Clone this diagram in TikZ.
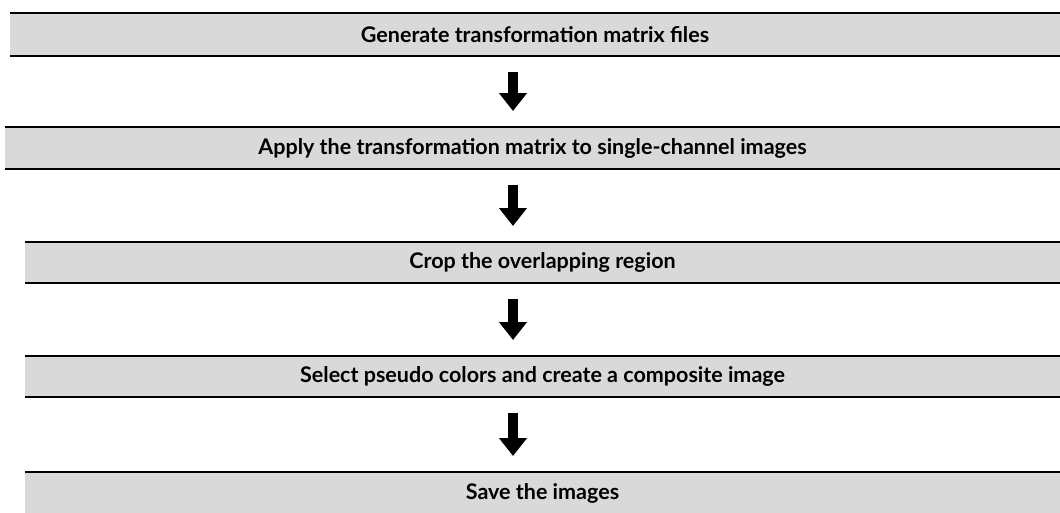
\documentclass[tikz,border=0pt]{standalone}
\usepackage{fontspec}
\newfontfamily\stagefont{Lato}
\usetikzlibrary{arrows.meta}

\begin{document}
\begin{tikzpicture}[x=1pt,y=-1pt,
	stage/.style={fill=black!15,inner sep=0pt,outer sep=0pt,font=\stagefont\bfseries\fontsize{21.5}{25}\selectfont},
	rule/.style={line width=2pt},
	flow/.style={line width=10pt,-{Triangle[width=27pt,length=18pt]},shorten <=16pt,shorten >=16pt}]
	\useasboundingbox (0,0) rectangle (1060,512);
	\node[stage,minimum width=1050pt,minimum height=43pt] (1) at (535,34.5) {Generate transformation matrix files};
	\node[stage,minimum width=1055pt,minimum height=42pt] (2) at (532.5,148) {Apply the transformation matrix to single-channel images};
	\node[stage,minimum width=1035pt,minimum height=41pt] (3) at (542.5,262.5) {Crop the overlapping region};
	\node[stage,minimum width=1035pt,minimum height=41pt] (4) at (542.5,376.5) {Select pseudo colors and create a composite image};
	\node[stage,minimum width=1035pt,minimum height=42pt] (5) at (542.5,493) {Save the images};
	\foreach \n in {1,...,5} {
		\draw[rule] (\n.north west) -- (\n.north east);
		\draw[rule] (\n.south west) -- (\n.south east);
	}
	\draw[flow] (1.south -| 513,0) -- (2.north -| 513,0);
	\draw[flow] (2.south -| 513,0) -- (3.north -| 513,0);
	\draw[flow] (3.south -| 513,0) -- (4.north -| 513,0);
	\draw[flow] (4.south -| 513,0) -- (5.north -| 513,0);
\end{tikzpicture}
\end{document}
